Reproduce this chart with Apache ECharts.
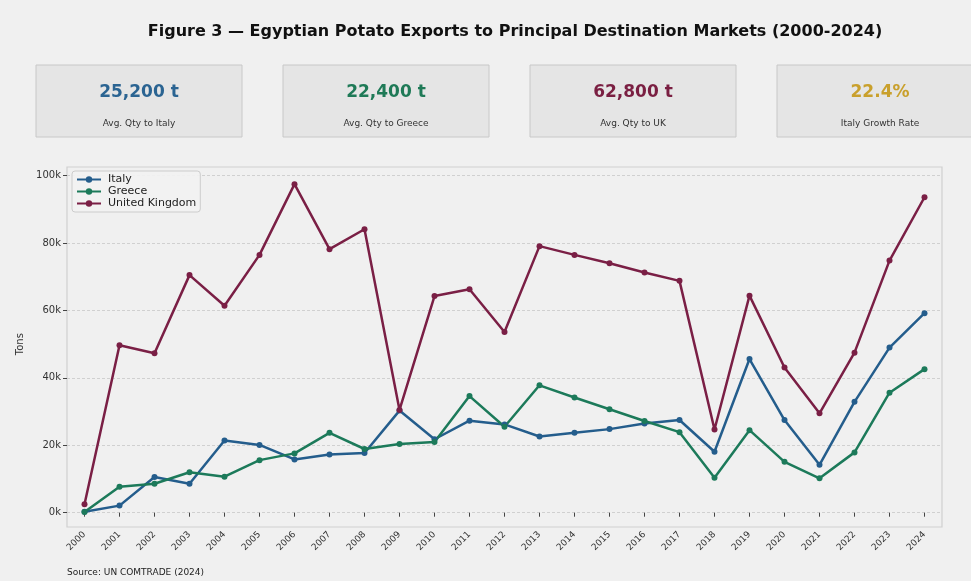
<!DOCTYPE html>
<html>
<head>
<meta charset="utf-8">
<script src="https://cdn.jsdelivr.net/npm/echarts@6/dist/echarts.min.js"></script>
<style>
  html, body { margin: 0; padding: 0; background: #f0f0f0; }
  #chart { width: 971px; height: 581px; }
</style>
</head>
<body>
<div id="chart"></div>
<script>
// years on the x axis
var years = ['2000', '2001', '2002', '2003', '2004', '2005', '2006', '2007', '2008', '2009',
    '2010', '2011', '2012', '2013', '2014', '2015', '2016', '2017', '2018', '2019',
    '2020', '2021', '2022', '2023', '2024'];

// tons
var italy = [300, 2100, 10600, 8600, 21400, 20100, 15800, 17300, 17700, 30300,
    21800, 27300, 26200, 22600, 23700, 24800, 26500, 27500, 18100, 45600,
    27500, 14200, 32900, 49000, 59200];
var greece = [200, 7700, 8600, 12000, 10700, 15600, 17600, 23700, 18900, 20400,
    21000, 34600, 25500, 37800, 34200, 30700, 27200, 23900, 10400, 24500,
    15100, 10200, 17900, 35600, 42600];
var uk = [2500, 49700, 47300, 70500, 61400, 76500, 97500, 78200, 84100, 30500,
    64300, 66300, 53600, 79100, 76500, 74000, 71300, 68800, 24700, 64400,
    43100, 29500, 47500, 74800, 93600];

// KPI cards
var kpiValues = ['25,200 t', '22,400 t', '62,800 t', '22.4%'];
var kpiLabels = ['Avg. Qty to Italy', 'Avg. Qty to Greece', 'Avg. Qty to UK', 'Italy Growth Rate'];
var kpiColors = ['#2b6492', '#1f7a57', '#7a1f42', '#c9a02c'];

var cItaly = '#245d8c';
var cGreece = '#1c7a5a';
var cUk = '#7a1f45';

var font = 'DejaVu Sans';

var cards = [];
for (var i = 0; i < kpiValues.length; i++) {
    var x0 = 36 + i * 247;
    cards.push({
        type: 'rect',
        shape: { x: x0, y: 65, width: 206, height: 72 },
        style: { fill: '#e5e5e5', stroke: '#c8c8c8', lineWidth: 1 }
    });
    cards.push({
        type: 'text',
        x: x0 + 103, y: 93,
        style: { text: kpiValues[i], fill: kpiColors[i], font: 'bold 17px "DejaVu Sans"', align: 'center', verticalAlign: 'middle' }
    });
    cards.push({
        type: 'text',
        x: x0 + 103, y: 124,
        style: { text: kpiLabels[i], fill: '#333', font: '9px "DejaVu Sans"', align: 'center', verticalAlign: 'middle' }
    });
}

var myChart = echarts.init(document.getElementById('chart'));

var option = {
    backgroundColor: '#f0f0f0',
    animation: false,
    textStyle: { fontFamily: font },
    title: {
        text: 'Figure 3 \u2014 Egyptian Potato Exports to Principal Destination Markets (2000-2024)',
        left: 510,
        top: 19,
        textAlign: 'center',
        textStyle: { fontFamily: font, fontSize: 16, fontWeight: 'bold', color: '#111' }
    },
    legend: {
        orient: 'vertical',
        left: 72,
        top: 171,
        itemGap: 1,
        itemWidth: 24,
        itemHeight: 8,
        padding: [3, 4, 3, 4],
        backgroundColor: 'rgba(242,242,242,0.9)',
        borderColor: '#cccccc',
        borderWidth: 1,
        borderRadius: 3,
        textStyle: { fontFamily: font, fontSize: 11, color: '#222', padding: [0, 0, 0, 2] },
        data: ['Italy', 'Greece', 'United Kingdom']
    },
    grid: {
        left: 67,
        right: 29,
        top: 175.7,
        bottom: 68.3
    },
    xAxis: {
        type: 'category',
        data: years,
        boundaryGap: true,
        offset: 14.3,
        axisLine: { show: false },
        axisTick: { show: true, alignWithLabel: true, length: 4, lineStyle: { color: '#444' } },
        axisLabel: { rotate: 45, fontSize: 9, color: '#333', margin: 6, interval: 0 }
    },
    yAxis: {
        type: 'value',
        min: 0,
        max: 100000,
        interval: 20000,
        name: 'Tons',
        nameLocation: 'middle',
        nameGap: 40,
        nameTextStyle: { fontFamily: font, fontSize: 10, color: '#333' },
        axisLine: { show: false },
        axisTick: { show: true, length: 4, lineStyle: { color: '#444' } },
        axisLabel: {
            fontSize: 10, color: '#333', margin: 6,
            formatter: function (v) { return (v / 1000) + 'k'; }
        },
        splitLine: { show: true, lineStyle: { color: '#c8c8c8', type: [3, 2], width: 0.8 } }
    },
    graphic: [
        {
            type: 'rect',
            shape: { x: 67, y: 167, width: 875, height: 360 },
            style: { fill: 'none', stroke: '#d0d0d0', lineWidth: 1.2 },
            z: 0
        },
        {
            type: 'text',
            x: 67, y: 573,
            style: { text: 'Source: UN COMTRADE (2024)', fill: '#222', font: '9px "DejaVu Sans"', verticalAlign: 'middle' }
        }
    ].concat(cards),
    series: [
        {
            name: 'Italy', type: 'line', data: italy,
            symbol: 'circle', symbolSize: 6,
            lineStyle: { width: 2.5, color: cItaly },
            itemStyle: { color: cItaly }
        },
        {
            name: 'Greece', type: 'line', data: greece,
            symbol: 'circle', symbolSize: 6,
            lineStyle: { width: 2.5, color: cGreece },
            itemStyle: { color: cGreece }
        },
        {
            name: 'United Kingdom', type: 'line', data: uk,
            symbol: 'circle', symbolSize: 6,
            lineStyle: { width: 2.5, color: cUk },
            itemStyle: { color: cUk }
        }
    ]
};

myChart.setOption(option);
</script>
</body>
</html>
